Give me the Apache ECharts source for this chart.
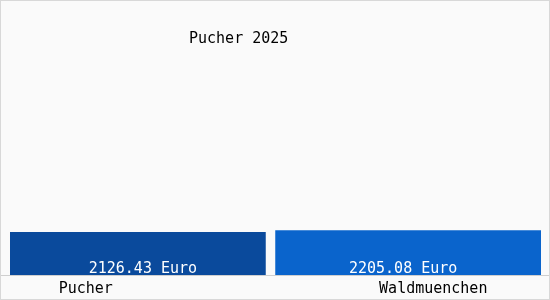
<!DOCTYPE html>
<html>
<head>
<meta charset="utf-8">
<script src="https://cdn.jsdelivr.net/npm/echarts@6/dist/echarts.min.js"></script>
<style>
  html, body { margin: 0; padding: 0; background: #fff; }
  #chart { width: 550px; height: 300px; box-sizing: border-box; border: 1px solid #d8d8d8; }
</style>
</head>
<body>
<div id="chart"></div>
<script>
const categories = ["Pucher", "Waldmuenchen"];
const pucherValues = [2126.43, null];
const waldValues = [null, 2205.08];
const titleText = "Pucher 2025";

const font = "'DejaVu Sans Mono', monospace";

const chart = echarts.init(document.getElementById("chart"));

function euroLabel(params) {
  return params.value.toFixed(2) + " Euro";
}

chart.setOption({
  animation: false,
  backgroundColor: "#fafafa",
  title: {
    text: titleText,
    left: 183,
    top: 26,
    textStyle: { fontFamily: font, fontSize: 15, fontWeight: "normal", color: "#000" },
  },
  grid: [
    { left: 9, right: 8, top: 25, bottom: 24 },
    { left: 0, right: 0, top: 25, bottom: 24 },
  ],
  xAxis: [
    {
      type: "category",
      data: categories,
      gridIndex: 0,
      axisLine: { show: false },
      axisTick: { show: false },
      axisLabel: {
        margin: 7,
        formatter: (value, index) => index === 0 ? `{a|${value}}` : `{b|${value}}`,
        rich: {
          a: { fontFamily: font, fontSize: 15, color: "#000", padding: [0, 114, 0, 0] },
          b: { fontFamily: font, fontSize: 15, color: "#000", padding: [0, 0, 0, 50] },
        },
      },
    },
    {
      type: "category",
      data: categories,
      gridIndex: 1,
      axisLine: { show: true, lineStyle: { color: "#cfcfcf", width: 1 } },
      axisTick: { show: false },
      axisLabel: { show: false },
    },
  ],
  yAxis: [
    { type: "value", gridIndex: 0, min: 0, max: 12300, show: false },
    { type: "value", gridIndex: 1, min: 0, max: 12300, show: false },
  ],
  series: [
    {
      name: "Pucher",
      type: "bar",
      data: pucherValues,
      barWidth: 256,
      barGap: "-100%",
      itemStyle: { color: "#0a4a9c" },
      label: {
        show: true,
        position: "insideBottom",
        distance: -2,
        offset: [5, 0],
        formatter: euroLabel,
        fontFamily: font,
        fontSize: 15,
        color: "#fff",
      },
    },
    {
      name: "Waldmuenchen",
      type: "bar",
      data: waldValues,
      barWidth: 266,
      barGap: "-100%",
      itemStyle: { color: "#0a64cc" },
      label: {
        show: true,
        position: "insideBottom",
        distance: -2,
        offset: [-5, 0],
        formatter: euroLabel,
        fontFamily: font,
        fontSize: 15,
        color: "#fff",
      },
    },
  ],
});
</script>
</body>
</html>
